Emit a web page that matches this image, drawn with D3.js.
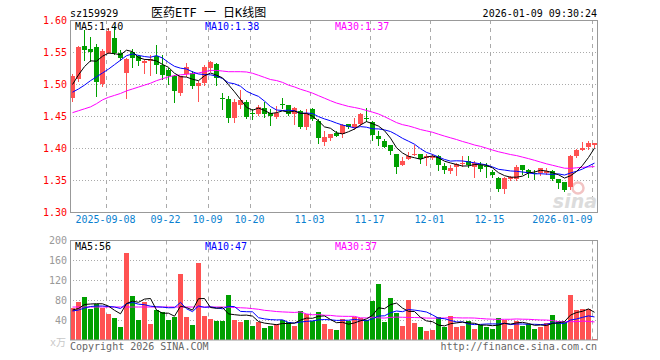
<!DOCTYPE html>
<html>
<head>
<meta charset="utf-8">
<script src="https://cdn.jsdelivr.net/npm/d3@7"></script>
<style>
body { margin: 0; background: #fff; }
text { font-family: "DejaVu Sans Mono", monospace; font-size: 10px; }
</style>
</head>
<body>
<script>
// daily candles (88 trading days)
var opens = [1.479,1.508,1.560,1.556,1.558,1.501,1.550,1.572,1.550,1.518,
  1.551,1.544,1.534,1.536,1.544,1.531,1.522,1.513,1.486,1.517,
  1.518,1.497,1.502,1.526,1.532,1.479,1.478,1.448,1.468,1.473,
  1.455,1.454,1.464,1.456,1.449,1.469,1.468,1.454,1.459,1.433,
  1.461,1.443,1.410,1.416,1.424,1.422,1.439,1.432,1.439,1.447,
  1.442,1.420,1.412,1.406,1.391,1.374,1.384,1.390,1.391,1.385,
  1.385,1.389,1.372,1.365,1.371,1.376,1.380,1.371,1.374,1.372,
  1.363,1.354,1.337,1.352,1.352,1.374,1.366,1.362,1.361,1.362,
  1.365,1.352,1.347,1.340,1.389,1.398,1.403,1.406];
var highs = [1.516,1.560,1.585,1.575,1.564,1.556,1.588,1.591,1.554,1.541,
  1.556,1.546,1.540,1.546,1.562,1.546,1.526,1.515,1.514,1.533,
  1.521,1.505,1.531,1.537,1.534,1.486,1.482,1.477,1.492,1.476,
  1.461,1.468,1.472,1.461,1.467,1.479,1.468,1.465,1.460,1.461,
  1.463,1.446,1.428,1.422,1.427,1.438,1.439,1.448,1.456,1.464,
  1.443,1.428,1.415,1.406,1.392,1.387,1.395,1.406,1.392,1.392,
  1.392,1.390,1.377,1.374,1.378,1.388,1.389,1.380,1.379,1.378,
  1.366,1.355,1.355,1.357,1.374,1.374,1.368,1.366,1.370,1.370,
  1.366,1.352,1.347,1.390,1.400,1.410,1.411,1.408];
var lows = [1.474,1.505,1.539,1.536,1.482,1.497,1.549,1.548,1.539,1.479,
  1.528,1.531,1.518,1.515,1.518,1.508,1.501,1.472,1.483,1.513,
  1.495,1.474,1.499,1.521,1.500,1.462,1.442,1.442,1.464,1.447,
  1.446,1.452,1.450,1.436,1.448,1.463,1.452,1.439,1.432,1.431,
  1.444,1.408,1.405,1.413,1.419,1.418,1.432,1.430,1.437,1.443,
  1.413,1.405,1.402,1.392,1.362,1.374,1.383,1.390,1.377,1.374,
  1.383,1.366,1.361,1.361,1.358,1.373,1.371,1.356,1.365,1.356,
  1.356,1.334,1.331,1.350,1.350,1.360,1.356,1.353,1.358,1.360,
  1.350,1.338,1.334,1.337,1.387,1.397,1.400,1.403];
var closes = [1.514,1.559,1.554,1.551,1.504,1.553,1.583,1.550,1.542,1.540,
  1.542,1.536,1.536,1.540,1.530,1.515,1.513,1.490,1.513,1.527,
  1.498,1.502,1.528,1.535,1.510,1.477,1.448,1.473,1.475,1.449,
  1.454,1.465,1.454,1.451,1.456,1.468,1.454,1.464,1.433,1.455,
  1.446,1.417,1.418,1.422,1.420,1.437,1.434,1.439,1.454,1.446,
  1.421,1.415,1.403,1.396,1.371,1.380,1.389,1.392,1.384,1.388,
  1.389,1.374,1.366,1.370,1.376,1.377,1.375,1.377,1.368,1.371,
  1.358,1.337,1.354,1.356,1.371,1.366,1.362,1.361,1.370,1.365,
  1.353,1.346,1.335,1.388,1.398,1.401,1.408,1.408];

// volume in 万 shares
var volumes = [66,77,88,63,74,65,54,46,28,176,
  90,42,78,34,61,58,42,48,134,48,
  32,156,50,44,40,40,92,42,38,42,
  30,38,26,30,34,42,38,30,60,54,
  40,58,34,24,22,44,39,47,45,41,
  80,114,38,86,56,30,82,36,28,20,
  22,48,28,50,28,30,40,24,32,28,
  24,46,42,24,40,30,34,24,27,35,
  51,39,37,92,61,63,63,3];

// moving average values at the left edge (history before the window)
var ma5Head = [1.500, 1.515, 1.528, 1.537];
var ma10Head = [1.488, 1.493, 1.499, 1.506, 1.512, 1.518, 1.524, 1.531, 1.538];
var ma30Head = [1.456, 1.459, 1.462, 1.465, 1.470, 1.476, 1.480, 1.483, 1.486, 1.490,
  1.493, 1.496, 1.499, 1.502, 1.506, 1.509, 1.512, 1.514, 1.515, 1.516,
  1.517, 1.518, 1.520, 1.522, 1.522, 1.521, 1.520, 1.520, 1.520];
var vma5Head = [61, 64, 72, 73];
var vma10Head = [59, 61, 65, 68, 69, 69, 68, 67, 64];
var vma30Head = [67, 67, 67, 67, 67, 67, 67, 67, 67, 67,
  67, 67, 67, 67, 67, 67, 67, 67, 67, 67,
  67, 67, 67, 67, 67, 67, 67, 66, 65.5];

// axis labels
var tickIdx = [6, 16, 23, 30, 40, 50, 60, 70, 87];
var tickLabels = ["2025-09-08", "09-22", "10-09", "10-20", "11-03", "11-17", "12-01", "12-15", "2026-01-09"];
var priceTicks = [1.30, 1.35, 1.40, 1.45, 1.50, 1.55, 1.60];
var volTicks = [40, 80, 120, 160, 200];

var upColor = "#ff5252",
    downColor = "#00a000";

drawChart();

function movingAvg(vals, n, head){
    return vals.map(function(v, i){
        if (i < n - 1) return head[i];
        return d3.mean(vals.slice(i - n + 1, i + 1));
    });
}

function drawChart(){
    var width = 660,
        height = 360;

    var svg = d3.select("body")
        .append("svg")
        .attr("width", width)
        .attr("height", height);

    var idx = d3.range(closes.length);

    var x = d3.scaleBand()
        .domain(idx)
        .range([70, 598]);

    var y = d3.scaleLinear()
        .domain([1.30, 1.60])
        .range([212.5, 20.5]);

    var yv = d3.scaleLinear()
        .domain([0, 200])
        .range([340.5, 240.5]);

    var ma5 = movingAvg(closes, 5, ma5Head),
        ma10 = movingAvg(closes, 10, ma10Head),
        ma30 = movingAvg(closes, 30, ma30Head);
    var vma5 = movingAvg(volumes, 5, vma5Head),
        vma10 = movingAvg(volumes, 10, vma10Head),
        vma30 = movingAvg(volumes, 30, vma30Head);

    // header
    svg.append("text").attr("x", 70).attr("y", 17).text("sz159929");
    svg.append("text").attr("x", 151).attr("y", 17)
        .style("font-size", "12px")
        .style("font-family", "'DejaVu Sans Mono','Noto Sans CJK SC',monospace")
        .text("医药ETF 一 日K线图");
    svg.append("text").attr("x", 597).attr("y", 17)
        .attr("text-anchor", "end")
        .text("2026-01-09 09:30:24");

    // grid: dotted horizontal, dashed vertical
    var grid = svg.append("g");
    grid.selectAll(".hp")
        .data(priceTicks.slice(1, -1))
        .enter().append("line")
        .attr("x1", 70).attr("x2", 598)
        .attr("y1", function(d){ return y(d); })
        .attr("y2", function(d){ return y(d); })
        .attr("stroke", "#aaa")
        .attr("stroke-dasharray", "1,2");
    grid.selectAll(".hv")
        .data(volTicks.slice(0, -1))
        .enter().append("line")
        .attr("x1", 70).attr("x2", 598)
        .attr("y1", function(d){ return yv(d); })
        .attr("y2", function(d){ return yv(d); })
        .attr("stroke", "#aaa")
        .attr("stroke-dasharray", "1,2");
    [[20, 212.5], [240.5, 340]].forEach(function(r){
        grid.selectAll(null)
            .data(tickIdx)
            .enter().append("line")
            .attr("x1", function(d){ return x(d) + 0.5; })
            .attr("x2", function(d){ return x(d) + 0.5; })
            .attr("y1", r[0]).attr("y2", r[1])
            .attr("stroke", "#aaa")
            .attr("stroke-dasharray", "4,4");
    });

    // sina watermark
    svg.append("circle")
        .attr("cx", 578).attr("cy", 188).attr("r", 5.5)
        .attr("fill", "none").attr("stroke", "#f2c4c4").attr("stroke-width", 2.5);
    svg.append("text")
        .attr("x", 597).attr("y", 208)
        .attr("text-anchor", "end")
        .style("font-family", "'DejaVu Sans', sans-serif")
        .style("font-size", "19px")
        .style("font-style", "italic")
        .style("font-weight", "bold")
        .attr("fill", "#dcdcdc")
        .text("sina");

    // candles
    var candles = svg.append("g").selectAll("g")
        .data(idx)
        .enter().append("g")
        .attr("fill", function(i){ return closes[i] >= opens[i] ? upColor : downColor; })
        .attr("stroke", function(i){ return closes[i] >= opens[i] ? upColor : downColor; });

    candles.append("line")
        .attr("x1", function(i){ return x(i) + 2.5; })
        .attr("x2", function(i){ return x(i) + 2.5; })
        .attr("y1", function(i){ return Math.round(y(highs[i])); })
        .attr("y2", function(i){ return Math.round(y(lows[i])) + 1; });

    candles.append("rect")
        .attr("stroke", "none")
        .attr("x", function(i){ return x(i); })
        .attr("width", 5)
        .attr("y", function(i){ return Math.round(y(Math.max(opens[i], closes[i]))); })
        .attr("height", function(i){
            var h = Math.round(y(Math.min(opens[i], closes[i]))) - Math.round(y(Math.max(opens[i], closes[i])));
            return Math.max(h, 1);
        });

    // volume bars
    svg.append("g").selectAll("rect")
        .data(idx)
        .enter().append("rect")
        .attr("x", function(i){ return x(i); })
        .attr("width", 5)
        .attr("y", function(i){ return Math.round(yv(volumes[i])); })
        .attr("height", function(i){ return 340 - Math.round(yv(volumes[i])); })
        .attr("fill", function(i){ return closes[i] >= opens[i] ? upColor : downColor; });

    // moving average lines
    var priceLine = d3.line()
        .x(function(d, i){ return x(i) + 2.5; })
        .y(function(d){ return y(d); });
    var volLine = d3.line()
        .x(function(d, i){ return x(i) + 2.5; })
        .y(function(d){ return yv(d); });

    var lines = [[ma30, vma30, "#ff00ff"], [ma10, vma10, "#0000ff"], [ma5, vma5, "#000"]];
    lines.forEach(function(l){
        svg.append("path").attr("d", priceLine(l[0]))
            .attr("fill", "none").attr("stroke", l[2]).attr("stroke-width", 1);
        svg.append("path").attr("d", volLine(l[1]))
            .attr("fill", "none").attr("stroke", l[2]).attr("stroke-width", 1);
    });

    // frames
    svg.append("rect").attr("x", 70.5).attr("y", 20.5).attr("width", 527).attr("height", 192)
        .attr("fill", "none").attr("stroke", "#999");
    svg.append("rect").attr("x", 70.5).attr("y", 240.5).attr("width", 527).attr("height", 99.5)
        .attr("fill", "none").attr("stroke", "#999");

    // axes
    var priceAxis = svg.append("g")
        .attr("transform", "translate(67,0)")
        .call(d3.axisLeft(y).tickValues(priceTicks).tickFormat(d3.format(".2f")).tickSize(0).tickPadding(0));
    priceAxis.select(".domain").remove();
    priceAxis.selectAll("text")
        .attr("fill", "#ff0000")
        .style("font-family", "'DejaVu Sans Mono',monospace")
        .style("font-size", "10px");

    var volAxis = svg.append("g")
        .attr("transform", "translate(67,0)")
        .call(d3.axisLeft(yv).tickValues(volTicks).tickSize(0).tickPadding(0));
    volAxis.select(".domain").remove();
    volAxis.selectAll("text")
        .attr("fill", "#999")
        .style("font-family", "'DejaVu Sans Mono',monospace")
        .style("font-size", "10px");

    var dateAxis = svg.append("g")
        .attr("transform", "translate(0,216)")
        .call(d3.axisBottom(x).tickValues(tickIdx)
            .tickFormat(function(d){ return tickLabels[tickIdx.indexOf(d)]; })
            .tickSize(0).tickPadding(0));
    dateAxis.select(".domain").remove();
    dateAxis.selectAll(".tick")
        .attr("transform", function(d){ return "translate(" + (x(d) - 0.5) + ",0)"; });
    dateAxis.selectAll("text")
        .attr("fill", "#0a7fd0")
        .attr("dy", "0.71em")
        .style("font-family", "'DejaVu Sans Mono',monospace")
        .style("font-size", "10px")
        .attr("text-anchor", function(d){ return d === 87 ? "end" : "middle"; })
        .attr("x", function(d){ return d === 87 ? 1 : 0; });

    // legends
    var last = closes.length - 1;
    svg.append("text").attr("x", 75).attr("y", 30).attr("fill", "#000")
        .text("MA5:" + ma5[last].toFixed(2));
    svg.append("text").attr("x", 205).attr("y", 30).attr("fill", "#0000ff")
        .text("MA10:" + ma10[last].toFixed(2));
    svg.append("text").attr("x", 335).attr("y", 30).attr("fill", "#ff00ff")
        .text("MA30:" + ma30[last].toFixed(2));
    svg.append("text").attr("x", 75).attr("y", 250).attr("fill", "#000")
        .text("MA5:" + Math.round(vma5[last]));
    svg.append("text").attr("x", 205).attr("y", 250).attr("fill", "#0000ff")
        .text("MA10:" + Math.round(vma10[last]));
    svg.append("text").attr("x", 335).attr("y", 250).attr("fill", "#ff00ff")
        .text("MA30:" + Math.round(vma30[last]));

    // footer
    svg.append("text").attr("x", 66).attr("y", 346).attr("text-anchor", "end")
        .attr("fill", "#c8c8c8")
        .style("font-family", "'DejaVu Sans Mono','Noto Sans CJK SC',monospace")
        .text("x万");
    svg.append("text").attr("x", 70).attr("y", 350).attr("fill", "#666")
        .text("Copyright 2026 SINA.COM");
    svg.append("text").attr("x", 597).attr("y", 350).attr("text-anchor", "end").attr("fill", "#666")
        .text("http://finance.sina.com.cn");
}
</script>
</body>
</html>
